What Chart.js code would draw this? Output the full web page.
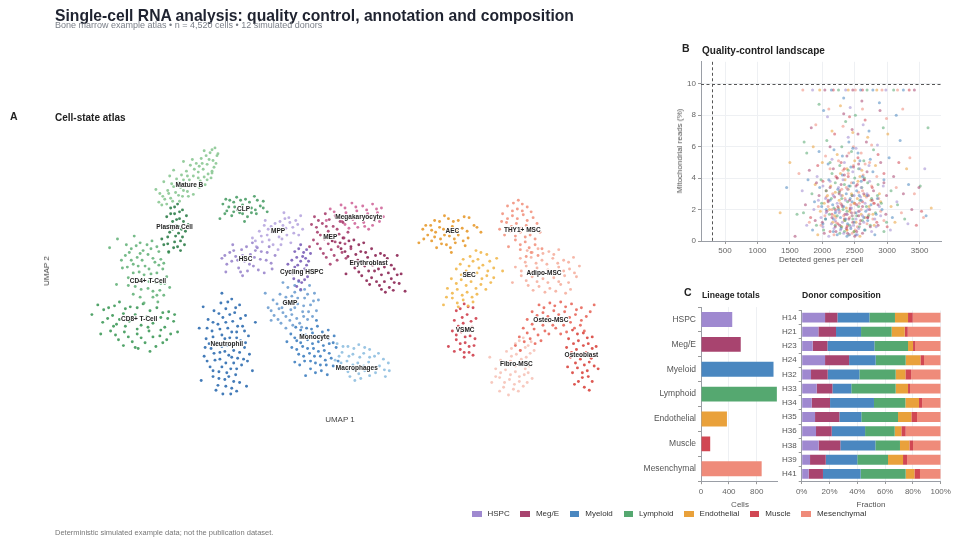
<!DOCTYPE html>
<html><head><meta charset="utf-8">
<script src="https://cdn.jsdelivr.net/npm/chart.js@4.4.1/dist/chart.umd.min.js"></script>
<style>
html,body{margin:0;padding:0}
body{width:960px;height:545px;position:relative;background:#fff;font-family:"Liberation Sans",Arial,Helvetica,sans-serif;overflow:hidden;color:#222}
.t{position:absolute;white-space:nowrap;line-height:1;will-change:transform}
canvas{position:absolute}
#legend{position:absolute;left:472px;top:510px;display:flex;align-items:center;font-size:8px;color:#333;line-height:1;will-change:transform}
#legend .it{display:flex;align-items:center;margin-right:10.7px}
#legend .bx{width:9.5px;height:6px;margin-right:6px}
</style></head><body>

<div class="t" style="left:55px;top:7.5px;font-size:15.7px;font-weight:bold;color:#1f2330">Single-cell RNA analysis: quality control, annotation and composition</div>
<div class="t" style="left:55px;top:21px;font-size:9px;color:#7a7f88">Bone marrow example atlas • n = 4,520 cells • 12 simulated donors</div>

<div class="t" style="left:10px;top:111px;font-size:10.5px;font-weight:bold">A</div>
<div class="t" style="left:55px;top:113px;font-size:10px;font-weight:bold">Cell-state atlas</div>
<div class="t" style="left:682px;top:43px;font-size:10.5px;font-weight:bold">B</div>
<div class="t" style="left:702px;top:46px;font-size:10px;font-weight:bold">Quality-control landscape</div>
<div class="t" style="left:684px;top:287px;font-size:10.5px;font-weight:bold">C</div>
<div class="t" style="left:702px;top:290.5px;font-size:8.6px;font-weight:bold">Lineage totals</div>
<div class="t" style="left:802px;top:290.5px;font-size:8.6px;font-weight:bold">Donor composition</div>

<div class="t" style="left:340px;top:420px;font-size:8px;color:#444;transform:translate(-50%,-50%)">UMAP 1</div>
<div class="t" style="left:47px;top:271px;font-size:8px;color:#444;transform:translate(-50%,-50%) rotate(-90deg)">UMAP 2</div>
<div class="t" style="left:821px;top:260px;font-size:8px;color:#555;transform:translate(-50%,-50%)">Detected genes per cell</div>
<div class="t" style="left:680px;top:151px;font-size:8px;color:#555;transform:translate(-50%,-50%) rotate(-90deg)">Mitochondrial reads (%)</div>
<div class="t" style="left:740px;top:505px;font-size:8px;color:#555;transform:translate(-50%,-50%)">Cells</div>
<div class="t" style="left:871px;top:504.5px;font-size:8px;color:#555;transform:translate(-50%,-50%)">Fraction</div>
<div class="t" style="left:55px;top:528.5px;font-size:7.5px;color:#777">Deterministic simulated example data; not the publication dataset.</div>

<canvas id="umap" width="530" height="260" style="left:80px;top:140px"></canvas>
<canvas id="qc" width="295" height="215" style="left:655px;top:55px"></canvas>
<canvas id="lin" width="145" height="215" style="left:640px;top:300px"></canvas>
<canvas id="don" width="195" height="215" style="left:765px;top:300px"></canvas>
<div id="legend"></div>

<script>
// ---------------- DATA ----------------
const lineages = ['HSPC','Meg/E','Myeloid','Lymphoid','Endothelial','Muscle','Mesenchymal'];
const lineageColors = ['#9f89d0','#a8446f','#4a87c0','#55a870','#e9a13b','#d14753','#ef8b7a'];
const lineageTotals = [448,570,1040,1088,372,132,870];
const lineageTicks = [0,400,800];

const donorIds = ['H14','H21','H23','H24','H32','H33','H34','H35','H36','H38','H39','H41'];
// percent of each donor's cells per lineage (HSPC, Meg/E, Myeloid, Lymphoid, Endothelial, Muscle, Mesenchymal)
const donorFractions = [
  [16.8, 8.9,23.0,18.4, 9.4,3.4,20.1],
  [12.0,12.7,18.0,22.0, 9.4,2.2,23.7],
  [ 7.9,10.6,33.8,24.2, 3.6,1.4,18.5],
  [16.8,17.3,19.1,21.6,10.6,2.6,12.0],
  [ 6.7,12.0,22.8,26.1, 7.0,4.1,21.3],
  [10.8,11.3,13.6,31.9, 8.9,1.4,22.1],
  [ 7.2,13.2,31.6,22.6, 9.8,2.2,13.4],
  [ 9.6,17.5,15.8,26.4, 9.6,4.1,17.0],
  [10.3,11.3,24.0,21.3, 4.8,3.1,25.2],
  [12.2,15.6,25.2,17.7, 6.8,2.6,19.9],
  [ 6.0,11.3,22.7,22.1,10.8,2.9,24.2],
  [ 5.0,10.3,27.1,32.4, 6.3,4.0,14.9]
];
const donorTicks = [0,20,40,60,80,100];

const clusterNames = ['HSC','MPP','Cycling HSPC','MEP','Megakaryocyte','Erythroblast','GMP','Neutrophil','Monocyte','Macrophages','CLP','Mature B','Plasma Cell','CD4+ T-Cell','CD8+ T-Cell','AEC','SEC','VSMC','THY1+ MSC','Adipo-MSC','Osteo-MSC','Osteoblast','Fibro-MSC'];
const clusterColors = ['#9a86cc','#b7a6df','#7b5fb8','#a8416f','#d0679a','#8d2654','#6f9fd0','#2f6db0','#3f7fc0','#8fbfe0','#4c9f68','#8bc894','#2f7e4a','#67b47c','#3f9a5a','#e79a2e','#f1b84e','#cf3f4d','#f29480','#f5b0a0','#e8685c','#d9463f','#f6c3b8'];
const clusterLabelX = [-9.6,-6.3,-3.9,-1.0,1.9,2.9,-5.1,-11.5,-2.6,1.7,-9.8,-15.3,-16.8,-19.5,-20.4,11.4,13.1,12.7,18.5,20.7,21.4,24.5,17.9];
const clusterLabelY = [1.1,4.0,-0.2,3.4,5.4,0.7,-3.4,-7.7,-6.9,-10.1,6.3,8.7,4.4,-1.2,-5.1,4.0,-0.5,-6.2,4.1,-0.3,-5.2,-8.8,-9.7];

const umapHSC = [[-12.0,1.2],[-11.2,1.8],[-11.5,0.6],[-10.6,1.4],[-10.3,0.2],[-10.0,2.1],[-9.7,0.9],[-9.4,-0.1],[-9.1,1.6],[-8.8,0.4],[-8.4,2.3],[-8.1,1.1],[-7.7,-0.3],[-7.4,1.8],[-7.0,0.7],[-10.9,2.6],[-8.9,2.8],[-6.6,1.5],[-9.9,-0.6],[-11.6,-0.2],
 [-11.7,1.5],[-11.0,0.9],[-10.8,2.0],[-10.4,1.0],[-9.9,1.5],[-9.5,2.4],[-9.2,0.6],[-8.7,1.3],[-8.3,0.0],[-8.0,1.9],[-7.5,1.0],[-7.2,2.4],[-10.1,-0.2],[-8.6,2.0],[-9.3,1.1],[-6.9,0.1]];
const umapMPP = [[-8.9,3.3],[-8.2,4.0],[-7.9,2.9],[-7.4,3.6],[-7.0,4.5],[-6.8,2.6],[-6.5,3.9],[-6.1,5.0],[-5.9,3.2],[-5.5,4.3],[-5.2,5.4],[-5.0,2.8],[-4.7,3.8],[-4.3,4.7],[-4.0,5.6],[-6.3,2.1],[-7.6,5.1],[-3.8,4.2],[-8.5,2.4],[-5.7,5.9],
 [-8.6,3.0],[-8.0,3.5],[-7.7,4.6],[-7.2,3.1],[-6.9,3.9],[-6.6,4.8],[-6.2,3.4],[-5.8,4.6],[-5.4,3.6],[-5.1,4.9],[-4.8,4.4],[-4.5,5.1],[-4.2,3.6],[-6.0,2.6],[-7.3,4.2],[-5.6,5.3]];
const umapCycling = [[-4.0,2.6],[-3.4,2.1],[-4.6,1.9],[-3.8,1.4],[-4.9,1.0],[-3.2,0.9],[-4.3,0.5],[-3.6,0.1],[-5.1,-0.1],[-4.1,-0.4],[-3.3,-0.7],[-4.7,-0.9],[-3.9,-1.3],[-4.4,-1.7],[-3.0,1.7],[-5.3,0.6],
 [-4.2,2.2],[-3.7,1.8],[-4.4,1.3],[-3.5,1.2],[-4.0,0.9],[-4.6,0.3],[-3.9,-0.1],[-4.8,-0.4],[-3.6,-1.0],[-4.2,-1.1],[-4.0,-2.0],[-3.4,0.5]];
const umapMEP = [[-2.6,5.5],[-1.5,5.8],[-0.4,5.4],[-2.9,4.7],[-1.8,4.8],[-0.7,4.5],[0.3,4.9],[-2.3,3.9],[-1.2,4.0],[-0.1,3.7],[0.8,3.9],[-2.7,3.1],[-1.6,3.2],[-0.5,2.9],[0.5,2.7],[-2.0,2.2],[-0.9,2.1],[0.2,1.8],[-1.4,1.3],[-0.3,1.0],[-3.1,2.4],[1.1,2.2],
 [-2.2,5.1],[-1.1,5.2],[0.0,5.0],[-2.4,4.4],[-1.4,4.5],[-0.3,4.2],[-2.0,3.6],[-0.8,3.5],[0.4,3.3],[-2.3,2.7],[-1.2,2.7],[-0.2,2.4],[-1.7,1.7],[-0.6,1.5],[0.6,1.2],[-1.0,0.6]];
const umapMega = [[-1.0,6.3],[0.1,6.7],[1.2,6.9],[2.3,6.6],[3.3,6.8],[4.2,6.4],[-0.5,5.6],[0.6,5.9],[1.7,6.1],[2.8,5.8],[3.8,5.9],[0.2,5.0],[1.3,5.2],[2.4,4.9],[3.5,5.1],[4.4,5.5],[1.8,4.4],[0.9,4.3],[2.9,4.2],[-1.4,5.1],
 [-0.6,6.0],[0.5,6.4],[1.6,6.5],[2.7,6.2],[3.7,6.3],[0.0,5.4],[1.0,5.6],[2.1,5.5],[3.1,5.4],[4.0,5.0],[1.5,4.8],[2.5,4.5],[0.5,4.7],[3.3,4.6]];
const umapEry = [[-0.8,3.0],[0.3,3.3],[1.4,3.1],[2.4,2.8],[0.1,2.2],[1.1,2.4],[2.1,1.9],[3.2,2.2],[4.1,1.7],[0.8,1.4],[1.8,1.0],[2.8,1.3],[3.8,0.9],[4.8,1.2],[1.5,0.2],[2.5,0.4],[3.5,-0.1],[4.5,0.3],[5.5,0.1],[2.2,-0.6],[3.2,-0.8],[4.2,-0.5],[5.2,-0.9],[6.2,-0.4],[3.0,-1.5],[4.0,-1.6],[5.0,-1.8],[6.0,-1.4],[4.6,-2.3],[6.6,-2.2],[0.6,-0.4],[5.8,1.5],
 [0.0,2.8],[0.9,3.0],[1.9,2.6],[0.5,1.9],[1.6,1.6],[2.6,1.8],[3.6,1.5],[4.5,1.5],[1.2,0.8],[2.3,0.7],[3.3,0.5],[4.3,0.7],[5.2,0.5],[1.9,-0.2],[2.9,-0.1],[3.9,0.1],[4.9,-0.3],[5.8,-0.5],[2.7,-1.1],[3.7,-1.2],[4.5,-1.2],[5.5,-1.3],[4.2,-2.0],[5.4,-2.1]];
const umapGMP = [[-4.2,-1.2],[-3.1,-1.6],[-5.3,-1.8],[-4.0,-2.1],[-2.6,-2.4],[-6.1,-2.5],[-4.9,-2.7],[-3.6,-2.9],[-6.8,-3.1],[-5.6,-3.3],[-4.3,-3.5],[-3.0,-3.6],[-7.3,-3.9],[-6.2,-4.0],[-5.0,-4.1],[-3.8,-4.3],[-2.4,-4.2],[-6.7,-4.7],[-5.5,-4.8],[-4.4,-5.0],[-3.3,-5.1],[-6.0,-5.5],[-4.8,-5.7],[-3.9,-5.9],[-7.6,-2.4],[-2.2,-3.1],[-5.8,-1.3],[-7.0,-5.2],
 [-4.6,-1.6],[-3.6,-2.0],[-4.6,-2.3],[-3.3,-2.5],[-5.5,-2.8],[-4.3,-2.9],[-6.4,-3.5],[-5.0,-3.4],[-3.7,-3.7],[-2.7,-3.2],[-5.9,-3.9],[-4.6,-3.9],[-3.2,-4.3],[-7.0,-4.2],[-5.8,-4.4],[-4.9,-4.6],[-3.7,-4.8],[-6.3,-5.1],[-5.1,-5.2],[-4.1,-5.5],[-2.8,-4.8],[-5.5,-6.0]];
const umapNeutrophil = [[-11.0,-3.0],[-12.1,-3.4],[-10.2,-3.6],[-11.6,-4.0],[-12.8,-4.2],[-10.7,-4.4],[-9.6,-4.7],[-11.9,-4.9],[-13.4,-5.1],[-10.9,-5.3],[-12.4,-5.6],[-9.9,-5.8],[-11.4,-6.0],[-13.0,-6.3],[-10.5,-6.4],[-12.0,-6.7],[-9.3,-6.8],[-11.2,-7.0],[-13.6,-7.1],[-10.1,-7.3],[-12.5,-7.5],[-11.5,-7.8],[-9.7,-8.0],[-13.1,-8.1],[-10.8,-8.3],[-12.2,-8.5],[-11.3,-8.8],[-9.2,-8.7],[-13.8,-8.9],[-10.4,-9.1],[-12.7,-9.3],[-11.6,-9.6],[-10.0,-9.8],[-13.2,-10.0],[-11.1,-10.2],[-12.3,-10.5],[-10.6,-10.8],[-12.9,-11.0],[-11.7,-11.3],[-10.2,-11.6],[-12.4,-11.9],[-11.0,-12.2],[-14.3,-6.0],[-8.6,-5.4],[-14.1,-11.4],[-8.9,-10.4],[-11.9,-12.8],[-13.9,-3.8],[-12.0,-2.4],[-9.5,-12.0],
 [-11.4,-3.3],[-10.6,-3.9],[-12.3,-4.5],[-11.2,-4.6],[-10.1,-5.0],[-12.9,-5.4],[-11.6,-5.4],[-10.4,-5.8],[-13.5,-6.0],[-12.2,-6.1],[-11.0,-6.4],[-9.7,-6.3],[-12.9,-6.9],[-11.7,-7.1],[-10.5,-7.0],[-9.6,-7.5],[-13.3,-7.6],[-12.0,-7.9],[-10.9,-7.7],[-10.2,-8.5],[-12.8,-8.6],[-11.7,-8.4],[-11.0,-9.0],[-9.8,-9.2],[-13.5,-9.4],[-12.2,-9.2],[-10.8,-9.6],[-12.0,-10.0],[-10.5,-10.2],[-12.9,-10.4],[-11.5,-10.6],[-11.3,-11.0],[-12.3,-11.2],[-10.8,-11.5],[-11.6,-12.0],[-10.5,-12.5],[-12.6,-12.4],[-9.4,-9.4],[-13.7,-8.0],[-11.1,-12.8]];
const umapMonocyte = [[-4.5,-5.9],[-3.4,-6.0],[-2.3,-5.8],[-1.2,-6.2],[-5.0,-6.6],[-3.9,-6.7],[-2.8,-6.5],[-1.7,-6.9],[-0.6,-6.8],[-4.4,-7.3],[-3.3,-7.2],[-2.2,-7.4],[-1.1,-7.6],[-4.9,-8.0],[-3.8,-7.9],[-2.7,-8.1],[-1.6,-8.3],[-0.4,-8.0],[-4.2,-8.7],[-3.1,-8.6],[-2.0,-8.9],[-0.9,-9.1],[-3.6,-9.4],[-2.5,-9.6],[-1.4,-9.8],[-3.0,-10.2],[-1.9,-10.4],[-5.4,-7.4],[-0.2,-9.4],[-4.6,-9.5],[-2.4,-5.2],[-3.5,-10.9],
 [-4.0,-6.2],[-2.9,-6.1],[-1.8,-6.4],[-4.6,-7.0],[-3.5,-6.7],[-2.3,-6.9],[-1.2,-7.1],[-4.0,-7.5],[-2.8,-7.6],[-1.7,-7.8],[-0.7,-7.5],[-4.4,-8.2],[-3.3,-8.1],[-2.2,-8.4],[-1.1,-8.6],[-3.7,-8.9],[-2.6,-8.9],[-1.5,-9.3],[-4.1,-9.8],[-3.0,-9.4],[-2.0,-9.8],[-0.7,-9.9],[-2.5,-10.6],[-1.3,-10.8]];
const umapMacro = [[-0.3,-7.6],[0.8,-7.9],[1.9,-7.7],[3.0,-8.2],[0.2,-8.5],[1.3,-8.7],[2.4,-8.6],[3.5,-8.9],[4.4,-9.2],[-0.5,-9.3],[0.7,-9.4],[1.8,-9.6],[2.9,-9.5],[4.0,-9.9],[0.3,-10.1],[1.4,-10.3],[2.5,-10.4],[3.6,-10.6],[5.0,-10.4],[1.0,-11.0],[2.1,-11.2],[4.6,-11.0],
 [0.3,-7.9],[1.4,-8.1],[2.5,-8.0],[3.9,-8.6],[-0.1,-8.9],[0.9,-8.9],[2.0,-9.0],[3.0,-9.0],[4.9,-9.6],[0.1,-9.6],[1.3,-9.8],[2.4,-9.9],[3.4,-10.1],[4.5,-10.3],[0.8,-10.5],[1.9,-10.7],[3.0,-10.9],[1.5,-11.4]];
const umapCLP = [[-11.9,6.8],[-11.2,7.2],[-10.5,7.5],[-9.6,7.3],[-8.7,7.6],[-7.8,7.1],[-11.5,6.1],[-10.7,6.5],[-9.9,6.7],[-9.0,6.4],[-8.1,6.6],[-7.4,6.0],[-11.0,5.6],[-10.2,5.9],[-9.4,5.5],[-8.5,5.8],[-12.2,5.3],[-9.7,5.0],
 [-11.6,7.3],[-10.8,7.0],[-10.1,7.2],[-9.2,7.0],[-8.4,7.2],[-11.3,6.5],[-10.4,6.2],[-9.5,6.2],[-8.6,6.2],[-7.8,6.4],[-10.8,6.0],[-9.9,5.8],[-9.0,5.9],[-11.7,5.8]];
const umapMatureB = [[-12.7,12.6],[-13.2,12.1],[-13.6,11.8],[-12.9,11.3],[-14.1,11.5],[-13.5,10.9],[-14.6,11.0],[-13.9,10.4],[-15.2,10.8],[-14.4,10.1],[-12.8,10.6],[-15.6,10.2],[-14.9,9.7],[-13.4,9.9],[-16.1,9.8],[-15.3,9.3],[-14.2,9.2],[-16.6,9.4],[-15.8,8.9],[-14.7,8.7],[-17.1,8.9],[-16.2,8.5],[-13.7,8.8],[-17.5,8.2],[-16.7,8.0],[-15.5,8.1],[-18.0,7.6],[-17.2,7.4],[-16.0,7.6],[-18.4,7.0],[-17.6,6.8],[-14.9,7.8],[-13.1,9.5],[-18.7,8.3],[-16.9,10.3],[-15.9,11.2],[-12.5,11.8],[-17.9,9.1],
 [-13.0,12.4],[-13.8,12.3],[-12.6,11.0],[-13.3,11.4],[-14.3,10.7],[-13.0,10.2],[-14.8,10.4],[-13.8,9.6],[-15.5,9.7],[-14.4,9.5],[-15.9,9.3],[-14.3,8.5],[-15.2,8.7],[-16.4,9.0],[-16.9,8.6],[-15.9,8.2],[-17.4,7.9],[-16.4,7.7],[-15.4,7.6],[-17.0,7.1],[-17.8,7.3],[-16.3,7.1],[-18.1,6.7],[-13.5,9.3],[-14.0,11.0],[-12.4,12.0],[-15.0,11.4],[-13.0,10.0],[-17.3,9.7],[-18.3,7.9]];
const umapPlasma = [[-16.5,6.8],[-17.2,6.4],[-16.0,6.2],[-16.8,5.8],[-17.6,5.5],[-16.3,5.3],[-15.6,5.6],[-17.0,5.0],[-16.6,4.6],[-17.8,4.4],[-16.1,4.2],[-15.4,4.7],[-17.3,3.9],[-16.7,3.5],[-18.1,3.2],[-16.2,3.0],[-17.5,2.7],[-16.9,2.3],[-15.8,2.6],[-17.4,1.9],
 [-16.8,6.5],[-16.3,6.0],[-17.2,5.8],[-16.6,5.2],[-15.9,5.0],[-17.3,4.6],[-16.4,4.5],[-15.7,4.0],[-17.0,4.2],[-16.4,3.8],[-17.5,3.4],[-16.0,3.4],[-16.8,2.9],[-17.9,2.6],[-16.5,2.4],[-16.2,2.0]];
const umapCD4 = [[-20.3,2.8],[-19.1,3.0],[-21.2,2.2],[-20.0,2.0],[-18.6,2.4],[-21.8,1.5],[-20.6,1.3],[-19.5,1.6],[-18.2,1.1],[-21.0,0.6],[-19.8,0.4],[-18.8,0.8],[-22.1,0.2],[-20.4,-0.2],[-19.2,-0.4],[-18.0,0.1],[-21.5,-0.8],[-20.0,-1.1],[-18.7,-1.3],[-17.6,-0.7],[-19.5,-1.9],[-18.3,-2.1],[-20.8,-1.7],[-17.9,-2.6],[-19.0,-2.8],[-21.0,-2.5],[-23.4,2.3],[-22.6,3.2],[-17.4,1.8],[-22.7,-1.5],[-20.9,3.5],[-18.5,-3.3],[-17.3,-1.8],[-19.9,-3.4],
 [-20.7,2.5],[-19.6,2.6],[-21.4,1.8],[-20.3,1.7],[-19.2,2.2],[-18.4,1.9],[-21.2,1.0],[-20.1,1.0],[-19.0,1.2],[-21.6,0.3],[-20.5,0.4],[-19.4,0.1],[-18.4,0.5],[-21.0,-0.3],[-19.9,-0.5],[-18.6,-0.3],[-20.6,-1.2],[-19.4,-1.2],[-18.2,-1.4],[-21.5,-1.6],[-20.2,-2.0],[-19.0,-2.2],[-17.8,-1.4],[-20.3,-2.8],[-18.6,-2.6],[-21.7,2.6],[-22.2,1.0],[-17.9,0.7]];
const umapCD8 = [[-24.6,-3.6],[-23.5,-3.9],[-22.4,-3.3],[-21.3,-3.8],[-20.0,-3.5],[-18.6,-3.9],[-17.4,-4.3],[-23.1,-4.7],[-22.0,-4.5],[-20.8,-4.6],[-19.6,-4.8],[-18.2,-4.9],[-16.9,-5.3],[-24.1,-5.4],[-22.7,-5.6],[-21.4,-5.3],[-20.2,-5.7],[-19.0,-5.5],[-17.8,-5.9],[-23.3,-6.3],[-21.9,-6.4],[-20.6,-6.6],[-19.4,-6.3],[-18.3,-6.8],[-16.5,-6.4],[-22.5,-7.2],[-21.1,-7.4],[-19.8,-7.5],[-18.7,-7.9],[-25.2,-4.6],[-17.6,-7.2],[-20.5,-8.1],
 [-24.0,-4.1],[-22.9,-3.7],[-21.8,-4.0],[-20.6,-3.9],[-19.3,-4.2],[-18.0,-4.4],[-23.6,-5.0],[-22.4,-5.1],[-21.2,-4.9],[-20.1,-5.1],[-18.8,-5.1],[-17.5,-5.0],[-23.0,-5.8],[-21.8,-5.8],[-20.6,-6.1],[-19.5,-5.9],[-18.2,-6.2],[-17.2,-6.6],[-22.8,-6.7],[-21.5,-6.9],[-20.2,-7.0],[-19.0,-6.9],[-18.0,-7.5],[-22.0,-7.8],[-20.8,-8.0],[-19.3,-8.4],[-24.3,-6.6],[-16.8,-4.6]];
const umapAEC = [[8.4,4.2],[9.2,4.6],[10.1,5.0],[11.0,5.3],[12.0,5.1],[13.1,5.4],[8.9,3.6],[9.7,3.9],[10.5,4.2],[11.4,4.5],[12.4,4.3],[13.6,4.6],[9.3,3.0],[10.2,3.2],[11.1,3.5],[12.0,3.6],[13.0,3.3],[14.3,3.9],[9.8,2.3],[10.8,2.6],[11.7,2.8],[12.7,2.5],[8.0,2.8],[11.3,1.8],
 [8.7,4.6],[9.6,5.1],[10.6,5.6],[11.5,5.0],[12.6,5.5],[9.3,4.1],[10.1,4.4],[11.0,4.1],[11.9,4.0],[12.9,4.0],[13.9,4.4],[9.6,3.4],[10.6,3.6],[11.6,3.2],[12.5,3.0],[10.3,2.7],[11.2,2.3],[8.5,3.2]];
const umapSEC = [[13.8,2.0],[14.9,1.6],[15.9,1.2],[12.5,1.1],[13.5,0.9],[14.5,0.5],[15.6,0.2],[11.8,0.1],[12.8,-0.1],[13.9,-0.3],[14.9,-0.6],[11.3,-0.9],[12.3,-1.0],[13.3,-1.2],[14.3,-1.5],[15.3,-1.3],[10.9,-1.9],[11.9,-2.0],[12.9,-2.3],[13.9,-2.5],[11.4,-2.9],[12.5,-3.1],[13.5,-3.3],[10.5,-3.6],[16.5,-0.1],[12.0,-3.8],
 [14.3,1.8],[13.2,1.4],[14.0,1.1],[15.2,0.9],[12.2,0.6],[13.1,0.4],[14.1,0.2],[15.0,-0.1],[12.3,-0.5],[13.3,-0.6],[14.4,-0.9],[11.8,-1.4],[12.8,-1.6],[13.8,-1.9],[14.8,-2.0],[11.4,-2.4],[12.4,-2.6],[13.4,-2.8],[11.9,-3.4],[13.0,-3.7],[10.8,-2.8],[15.6,-0.8]];
const umapVSMC = [[12.6,-3.5],[13.5,-3.9],[11.8,-4.2],[12.9,-4.6],[13.8,-5.0],[11.6,-5.2],[12.5,-5.5],[13.4,-5.9],[11.4,-6.3],[12.3,-6.4],[13.2,-6.8],[11.8,-7.2],[12.7,-7.5],[13.6,-7.8],[12.2,-8.2],[13.1,-8.5],[12.6,-9.0],[11.0,-7.9],
 [13.0,-3.8],[12.2,-4.0],[12.4,-4.9],[13.3,-5.3],[12.0,-5.8],[12.9,-6.1],[11.8,-6.7],[12.7,-6.9],[13.7,-7.1],[12.2,-7.6],[13.1,-7.9],[12.6,-8.5],[13.5,-8.8],[11.6,-8.4]];
const umapTHY1 = [[18.1,7.2],[17.0,6.6],[18.0,6.3],[19.0,6.5],[16.5,5.8],[17.5,5.6],[18.6,5.7],[19.6,5.4],[16.9,4.9],[17.9,4.8],[18.9,4.6],[20.0,4.8],[17.3,4.0],[18.3,3.9],[19.3,3.6],[20.3,3.9],[17.8,3.1],[18.8,2.9],[19.8,2.6],[18.3,2.1],[19.4,1.8],[16.2,4.2],[20.5,2.2],[17.1,2.4],
 [17.6,6.9],[18.5,6.8],[17.5,6.1],[18.5,6.1],[19.4,6.0],[17.0,5.3],[18.0,5.3],[19.0,5.1],[17.4,4.5],[18.4,4.3],[19.4,4.2],[17.8,3.5],[18.8,3.4],[19.8,3.2],[18.3,2.6],[19.2,2.3],[16.7,3.6],[20.1,1.5],[18.9,1.4],[16.4,5.0]];
const umapAdipo = [[19.0,2.0],[20.1,2.2],[21.2,1.9],[22.2,2.1],[18.3,1.2],[19.4,1.3],[20.5,1.0],[21.6,1.2],[22.7,1.0],[23.7,1.3],[17.8,0.3],[18.9,0.4],[20.0,0.2],[21.1,0.0],[22.2,0.3],[23.3,0.1],[18.4,-0.6],[19.5,-0.7],[20.6,-0.9],[21.7,-0.8],[22.8,-0.6],[24.0,-0.7],[19.1,-1.6],[20.2,-1.7],[21.3,-1.9],[22.4,-1.5],[23.4,-2.0],[17.5,-1.3],
 [19.5,1.8],[20.6,1.7],[21.7,1.6],[18.8,0.8],[19.9,0.7],[21.0,0.6],[22.1,0.7],[23.2,0.8],[18.4,-0.1],[19.5,-0.2],[20.5,-0.3],[21.6,-0.4],[22.7,-0.1],[23.8,-0.3],[18.9,-1.1],[20.0,-1.2],[21.1,-1.3],[22.2,-1.2],[23.2,-1.3],[19.6,-2.1],[20.8,-2.3],[21.9,-2.2],[22.9,-2.4],[24.3,0.4]];
const umapOsteoMSC = [[20.2,-3.6],[21.3,-3.4],[22.4,-3.3],[23.5,-3.5],[24.5,-3.9],[19.5,-4.3],[20.6,-4.4],[21.7,-4.2],[22.8,-4.3],[23.9,-4.6],[25.0,-4.8],[19.0,-5.1],[20.1,-5.2],[21.2,-5.3],[22.3,-5.1],[23.4,-5.4],[24.4,-5.7],[18.6,-6.0],[19.7,-6.1],[20.8,-6.3],[21.9,-6.0],[23.0,-6.4],[18.2,-6.9],[19.3,-7.1],[20.4,-7.3],[25.8,-3.6],[17.8,-7.8],[24.8,-6.3],
 [20.7,-3.9],[21.8,-3.7],[22.9,-3.8],[24.0,-4.1],[20.0,-4.7],[21.1,-4.8],[22.2,-4.6],[23.3,-4.9],[24.5,-5.2],[19.5,-5.6],[20.6,-5.7],[21.6,-5.7],[22.7,-5.7],[23.8,-6.0],[19.0,-6.5],[20.1,-6.7],[21.2,-6.6],[18.7,-7.4],[19.8,-7.6],[25.4,-4.3],[22.4,-6.6],[18.3,-8.3]];
const umapOsteoblast = [[23.6,-6.2],[24.7,-6.5],[25.6,-6.9],[23.2,-7.1],[24.2,-7.3],[25.2,-7.6],[26.0,-7.9],[23.0,-8.0],[24.0,-8.2],[25.0,-8.5],[25.9,-8.8],[23.4,-9.0],[24.4,-9.2],[25.3,-9.5],[23.1,-10.0],[24.1,-10.1],[25.1,-10.4],[24.6,-11.1],[25.6,-11.5],[23.8,-11.8],[25.3,-12.4],[26.2,-10.2],
 [24.1,-6.6],[25.1,-7.0],[23.7,-7.6],[24.7,-7.8],[25.6,-8.1],[23.5,-8.5],[24.5,-8.7],[25.5,-9.1],[23.9,-9.6],[24.8,-9.8],[25.8,-9.9],[23.6,-10.6],[24.6,-10.6],[25.2,-11.0],[24.2,-11.5],[24.8,-12.1]];
const umapFibro = [[18.6,-7.0],[19.4,-7.4],[17.8,-7.6],[18.8,-8.0],[19.7,-8.3],[16.9,-8.4],[17.9,-8.7],[18.9,-9.0],[16.3,-9.3],[17.3,-9.4],[18.3,-9.6],[19.2,-9.9],[15.8,-10.2],[16.8,-10.3],[17.8,-10.5],[18.7,-10.8],[16.2,-11.1],[17.2,-11.3],[18.2,-11.5],[16.6,-12.1],[17.6,-12.3],[18.6,-12.0],[15.4,-11.6],[17.1,-12.9],[19.5,-11.2],[15.2,-9.0],
 [18.2,-7.3],[19.1,-7.8],[18.3,-8.3],[17.4,-8.1],[19.3,-8.6],[17.4,-8.9],[18.4,-9.2],[16.8,-9.8],[17.8,-9.9],[18.8,-10.2],[16.3,-10.6],[17.3,-10.8],[18.2,-11.0],[19.1,-10.6],[16.7,-11.6],[17.7,-11.8],[18.1,-12.5],[16.2,-12.5],[15.8,-11.0],[19.0,-11.6]];
const clusterPoints = [umapHSC,umapMPP,umapCycling,umapMEP,umapMega,umapEry,umapGMP,umapNeutrophil,umapMonocyte,umapMacro,umapCLP,umapMatureB,umapPlasma,umapCD4,umapCD8,umapAEC,umapSEC,umapVSMC,umapTHY1,umapAdipo,umapOsteoMSC,umapOsteoblast,umapFibro];

// QC: [detected genes, mitochondrial %] per sampled cell, grouped by lineage
const qcHSPC = [[2310,1.2],[2450,2.1],[2180,0.8],[2620,1.6],[2050,2.7],[2390,3.3],[2760,0.6],[1980,1.5],[2540,0.4],[2230,2.4],[2880,2.2],[2120,3.8],[2470,4.4],[2690,3.0],[1870,2.0],[2330,0.5],[2590,2.8],[2010,0.9],[2810,1.4],[2260,1.8],[2940,3.5],[2150,5.2],[2520,5.9],[2720,4.8],[1920,4.1],[2400,6.6],[2630,7.4],[2080,7.9],[2850,6.1],[3150,2.5],[3320,1.1],[1760,1.0],[2360,9.6],[2980,9.6],[1850,9.6],[2200,1.3],[2480,1.0],[2570,1.9],[2290,2.9],[2660,2.4],[3050,0.7],[1690,3.2],[2430,8.5],[3580,4.6],[2100,0.3],
 [2210,1.9],[2360,2.6],[2520,1.4],[2280,0.7],[2440,0.9],[2600,3.4],[2140,1.1],[2700,2.0],[2380,1.7],[2060,1.8],[2490,2.9],[2320,3.9],[2560,0.8],[2170,2.9],[2830,0.9],[2420,0.4],[1940,2.6],[2640,1.2],[2250,3.4],[2900,1.6],[2730,3.8],[2340,5.0],[2010,3.5],[2580,4.6],[2460,1.6]];
const qcMegE = [[2350,1.7],[2210,0.6],[2580,1.1],[2420,2.6],[2070,1.9],[2730,2.0],[2290,3.6],[1950,2.9],[2640,3.9],[2500,0.3],[2170,4.6],[2860,1.0],[2380,5.4],[2030,0.5],[2790,3.2],[2240,2.2],[2560,4.9],[1890,1.3],[2990,2.9],[2460,7.1],[2680,6.3],[2120,6.0],[2900,5.0],[1800,4.5],[2330,8.1],[2610,8.9],[3100,4.1],[3250,3.0],[1830,7.2],[2470,9.6],[3420,9.6],[2040,9.6],[2270,1.0],[2410,1.4],[2530,2.3],[2190,2.8],[2740,0.9],[2620,0.5],[2980,1.7],[1740,2.3],[3380,2.0],[3490,3.4],[2550,6.8],[1580,0.3],[2890,8.3],
 [2300,2.3],[2450,1.8],[2150,1.5],[2620,2.2],[2370,0.8],[2520,3.5],[2090,2.5],[2700,1.5],[2260,3.0],[2430,2.1],[2560,1.6],[2200,0.9],[2770,2.6],[2340,4.2],[2000,1.2],[2480,4.7],[2640,3.0],[2120,3.4],[2860,2.3],[2390,0.5],[2230,4.0],[1910,3.7],[2690,4.4],[2530,0.6],[2950,3.7]];
const qcMyeloid = [[2280,1.5],[2440,0.8],[2520,1.8],[2160,2.3],[2600,2.6],[2370,3.0],[2010,1.1],[2700,1.3],[2230,0.4],[2850,2.7],[1960,3.4],[2480,3.7],[2650,0.7],[2310,4.2],[2090,4.9],[2780,4.4],[2550,5.6],[1880,2.5],[2410,6.3],[2950,3.9],[2180,5.8],[2720,7.0],[2020,8.3],[2880,8.8],[2330,9.1],[3030,5.3],[1780,3.9],[3200,6.4],[2590,9.6],[2140,9.6],[2780,9.6],[3250,9.6],[2250,2.0],[2390,1.1],[2460,2.5],[2170,1.4],[2670,1.9],[2810,0.4],[3080,1.5],[1850,0.7],[2530,3.2],[2060,2.0],[3330,3.6],[3140,8.0],[2380,0.3],[1950,5.7],[2440,4.7],[3600,1.6],[1450,3.4],[2620,4.1],
 [2330,2.2],[2490,1.2],[2200,1.8],[2570,2.9],[2410,3.5],[2290,0.8],[2640,1.5],[2120,2.6],[2750,2.3],[2360,1.4],[2520,0.4],[2050,1.4],[2600,3.8],[2240,3.3],[2830,1.7],[2430,2.7],[1990,2.2],[2690,2.9],[2170,0.6],[2920,2.0],[2310,5.4],[2580,5.1],[2470,5.9],[2740,5.2],[2100,3.9]];
const qcLymphoid = [[2320,2.0],[2470,1.4],[2200,1.0],[2570,0.9],[2390,2.5],[2110,1.7],[2680,2.2],[2260,3.1],[1990,2.4],[2740,1.0],[2430,3.5],[2060,3.2],[2820,1.8],[2340,0.6],[2610,3.4],[1910,1.0],[2500,4.0],[2150,4.3],[2910,2.4],[2270,4.8],[2640,5.1],[1840,3.0],[2450,5.7],[2070,6.4],[2790,5.8],[2360,7.6],[2940,7.2],[1950,8.7],[2510,8.0],[3060,3.2],[3270,1.4],[1710,1.8],[2250,9.6],[2690,9.6],[3100,9.6],[1720,6.3],[2180,2.1],[2350,1.3],[2290,0.9],[2560,2.2],[2410,0.4],[2700,3.7],[2020,0.7],[2860,3.6],[3160,2.3],[3510,3.5],[3630,7.2],[1760,5.6],[1610,1.7],[2950,0.6],
 [2230,1.6],[2380,1.9],[2530,1.6],[2300,2.7],[2460,2.9],[2140,2.7],[2620,1.3],[2760,2.7],[2200,3.7],[2420,1.0],[2580,2.6],[2050,1.4],[2340,3.6],[2660,0.7],[2490,0.6],[1980,3.9],[2710,1.6],[2270,0.5],[2850,2.9],[2400,4.5],[2560,4.6],[2120,5.0],[2650,4.0],[2990,1.2],[2300,6.0]];
const qcEndothelial = [[2300,0.9],[2420,1.9],[2190,1.6],[2540,2.7],[2080,2.9],[2660,1.5],[2350,3.9],[1970,1.9],[2750,2.6],[2490,0.6],[2130,3.5],[2880,3.0],[2380,4.6],[2610,4.5],[1890,3.6],[2230,5.5],[2820,4.8],[2470,6.9],[2000,5.0],[2700,6.6],[2280,8.6],[3010,6.8],[1860,6.0],[3120,1.2],[3300,4.6],[1500,5.0],[2400,9.6],[2840,9.6],[1960,9.6],[2520,1.2],[2260,2.6],[2450,3.0],[2370,2.1],[2580,0.3],[3060,2.2],[1930,0.4],[2780,1.7],[2150,7.0],[1350,1.8],[3680,2.1],
 [2340,1.3],[2490,2.4],[2250,2.1],[2600,1.7],[2400,3.3],[2160,1.2],[2720,2.2],[2310,2.9],[2550,3.8],[2030,2.4],[2460,1.6],[2650,2.9],[2200,3.1],[2800,1.0],[2380,0.7],[2110,2.0],[2580,4.1],[2900,2.5],[2280,4.3],[2500,5.1]];
const qcMuscle = [[2340,1.4],[2460,2.9],[2200,2.0],[2590,1.3],[2120,0.6],[2710,2.9],[2400,4.1],[2010,3.8],[2840,1.2],[2290,5.0],[2550,5.3],[1930,4.8],[2660,7.7],[2190,6.8],[2950,4.3],[2420,7.9],[3180,5.0],[1820,1.5],[2620,9.6],[2170,9.6],[3340,9.6],[2380,1.7],[2500,2.4],[2240,1.1],[2770,3.4],[3000,0.9],[3450,1.0],[3530,1.9],[2090,2.6],[2860,5.5],
 [2310,2.2],[2470,1.2],[2270,3.2],[2620,2.5],[2380,0.9],[2540,3.6],[2150,1.7],[2700,1.5],[2430,2.0],[2060,3.2],[2800,2.4],[2340,4.6],[2560,1.9],[2210,4.1],[2650,3.9]];
const qcMesenchymal = [[2330,1.6],[2440,2.3],[2210,1.2],[2600,2.0],[2090,2.2],[2720,1.7],[2370,3.4],[2040,1.6],[2790,2.4],[2510,0.7],[2160,3.0],[2900,1.9],[2400,4.3],[2630,4.2],[1940,2.2],[2250,5.1],[2840,4.1],[2480,6.0],[2050,5.4],[2760,6.1],[2320,7.3],[2990,7.8],[1900,7.4],[3140,3.4],[3350,5.3],[1640,4.3],[2510,9.6],[2920,9.6],[1700,9.6],[3160,9.6],[2280,2.4],[2460,0.5],[2390,1.0],[2560,3.1],[2180,0.4],[2680,2.8],[2950,1.3],[1800,1.2],[3220,1.8],[2620,8.4],[3240,8.4],[3420,3.0],[3560,1.5],[2100,8.4],[2730,5.0],
 [2270,1.9],[2420,1.5],[2570,2.4],[2350,2.7],[2500,1.8],[2150,2.0],[2690,1.1],[2300,3.3],[2450,3.7],[2620,3.2],[2060,2.8],[2780,1.4],[2380,0.7],[2210,1.5],[2540,0.9],[2870,2.7],[2230,4.0],[2480,4.8],[2660,4.9],[1980,1.0],[2410,5.6],[2600,5.6],[2320,4.5],[2760,3.5],[2120,4.6]];
const qcByLineage = [qcHSPC,qcMegE,qcMyeloid,qcLymphoid,qcEndothelial,qcMuscle,qcMesenchymal];
const qcGeneTicks = [500,1000,1500,2000,2500,3000,3500];
const qcMitoTicks = [0,2,4,6,8,10];
const qcGeneThreshold = 300;
const qcMitoThreshold = 10;

// ---------------- RENDER ----------------
Chart.defaults.font.family = '"Liberation Sans", Arial, Helvetica, sans-serif';
Chart.defaults.color = '#555';
Chart.defaults.animation = false;

function rgba(hex, a){
  const n = parseInt(hex.slice(1),16);
  return 'rgba(' + ((n>>16)&255) + ',' + ((n>>8)&255) + ',' + (n&255) + ',' + a + ')';
}
const noPlug = {legend:{display:false}, tooltip:{enabled:false}};
const fixedTicks = arr => (s => { s.ticks = arr.map(v => ({value:v})); });
const plainLabel = v => String(v);

// UMAP
const labelPlugin = {
  id:'clusterLabels',
  afterDatasetsDraw(chart){
    const ctx = chart.ctx, xs = chart.scales.x, ys = chart.scales.y;
    ctx.save();
    ctx.font = 'bold 6.5px "Liberation Sans", Arial, sans-serif';
    ctx.textAlign = 'center'; ctx.textBaseline = 'middle';
    ctx.lineJoin = 'round';
    clusterNames.forEach((name,i)=>{
      const px = xs.getPixelForValue(clusterLabelX[i]);
      const py = ys.getPixelForValue(clusterLabelY[i]);
      ctx.strokeStyle = 'rgba(255,255,255,0.85)'; ctx.lineWidth = 2;
      ctx.strokeText(name, px, py);
      ctx.fillStyle = '#262626';
      ctx.fillText(name, px, py);
    });
    ctx.restore();
  }
};
new Chart(document.getElementById('umap'), {
  type:'scatter',
  data:{datasets: clusterNames.map((name,i)=>({
    label:name,
    data: clusterPoints[i].map(p=>({x:p[0], y:p[1]})),
    backgroundColor: rgba(clusterColors[i],0.9),
    borderWidth:0, pointRadius:1.45, clip:false
  }))},
  options:{responsive:false, layout:{padding:0}, plugins:noPlug,
    scales:{
      x:{type:'linear', min:-26, max:27, display:false},
      y:{type:'linear', min:-13, max:13, display:false}
    }},
  plugins:[labelPlugin]
});

// QC scatter
const tickFont = {size:8};
const qcLines = {
  id:'qcLines',
  afterDatasetsDraw(chart){
    const {ctx, chartArea:a} = chart, xs = chart.scales.x, ys = chart.scales.y;
    ctx.save();
    ctx.strokeStyle = '#555'; ctx.lineWidth = 1; ctx.setLineDash([3,2.5]);
    const yy = Math.round(ys.getPixelForValue(qcMitoThreshold))+0.5;
    ctx.beginPath(); ctx.moveTo(a.left, yy); ctx.lineTo(a.right, yy); ctx.stroke();
    const xx = Math.round(xs.getPixelForValue(qcGeneThreshold))+0.5;
    ctx.beginPath(); ctx.moveTo(xx, a.top); ctx.lineTo(xx, a.bottom); ctx.stroke();
    ctx.restore();
  }
};
new Chart(document.getElementById('qc'), {
  type:'scatter',
  data:{datasets: lineages.map((l,i)=>({
    label:l,
    data: qcByLineage[i].map(p=>({x:p[0], y:p[1]})),
    backgroundColor: rgba(lineageColors[i],0.55),
    borderWidth:0, pointRadius:1.5
  }))},
  options:{responsive:false, plugins:noPlug, layout:{padding:{top:5.5, right:9, left:0, bottom:0}},
    scales:{
      x:{type:'linear', min:130, max:3830, afterFit:s=>{s.height=29;}, afterBuildTicks:fixedTicks(qcGeneTicks),
        ticks:{font:tickFont, color:'#666', padding:2, maxRotation:0, autoSkip:false, callback:plainLabel},
        grid:{color:'#eef0f3', tickColor:'#999', tickLength:3}, border:{color:'#9a9ea6'}},
      y:{type:'linear', min:0, max:11.4, afterFit:s=>{s.width=46;}, afterBuildTicks:fixedTicks(qcMitoTicks),
        ticks:{font:tickFont, color:'#666', padding:2, autoSkip:false, callback:plainLabel},
        grid:{color:'#eef0f3', tickColor:'#999', tickLength:3}, border:{color:'#9a9ea6'}}
    }},
  plugins:[qcLines]
});

// Lineage totals
new Chart(document.getElementById('lin'), {
  type:'bar',
  data:{labels:lineages, datasets:[{data:lineageTotals, backgroundColor:lineageColors, borderWidth:0, barPercentage:0.6, categoryPercentage:1}]},
  options:{responsive:false, indexAxis:'y', plugins:noPlug, layout:{padding:{top:6.9, right:8}},
    scales:{
      x:{min:0, max:1090, afterFit:s=>{s.height=33.8;}, afterBuildTicks:fixedTicks(lineageTicks),
        ticks:{font:tickFont, color:'#666', padding:3, maxRotation:0, autoSkip:false, callback:plainLabel},
        grid:{color:'#eef0f3', tickColor:'#999', tickLength:3}, border:{color:'#9a9ea6'}},
      y:{afterFit:s=>{s.width=61;},
        ticks:{font:{size:8.5}, color:'#555', padding:2},
        grid:{drawOnChartArea:false, tickColor:'#999', tickLength:3}, border:{color:'#9a9ea6'}}
    }}
});

// Donor composition
new Chart(document.getElementById('don'), {
  type:'bar',
  data:{labels:donorIds, datasets: lineages.map((l,i)=>({
    label:l, data: donorFractions.map(r=>r[i]),
    backgroundColor: lineageColors[i], borderWidth:0, barPercentage:0.7, categoryPercentage:1
  }))},
  options:{responsive:false, indexAxis:'y', plugins:noPlug, layout:{padding:{top:10.5, right:19.3}},
    scales:{
      x:{stacked:true, min:0, max:100, afterFit:s=>{s.height=34;}, afterBuildTicks:fixedTicks(donorTicks),
        ticks:{font:tickFont, color:'#666', padding:3, maxRotation:0, autoSkip:false, callback:v=>v+'%'},
        grid:{color:'#eef0f3', tickColor:'#999', tickLength:3}, border:{color:'#9a9ea6'}},
      y:{stacked:true, afterFit:s=>{s.width=36.7;},
        ticks:{font:tickFont, color:'#555', padding:2},
        grid:{drawOnChartArea:false, tickColor:'#999', tickLength:3}, border:{color:'#9a9ea6'}}
    }}
});

// Legend
const leg = document.getElementById('legend');
lineages.forEach((l,i)=>{
  const it = document.createElement('div'); it.className='it';
  const b = document.createElement('div'); b.className='bx'; b.style.background = lineageColors[i];
  const s = document.createElement('span'); s.textContent = l;
  it.appendChild(b); it.appendChild(s); leg.appendChild(it);
});
</script>
</body></html>
